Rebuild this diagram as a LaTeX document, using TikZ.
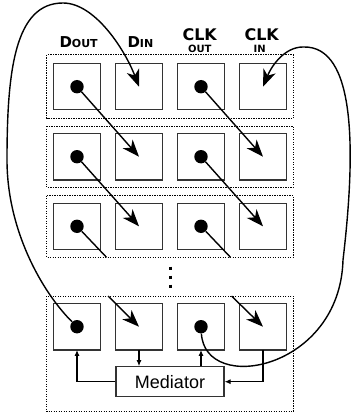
\documentclass[tikz,border=0pt]{standalone}
\usepackage{fontspec}
\setmainfont{DejaVu Sans}
\newfontfamily\medfont{Liberation Sans}
\usetikzlibrary{arrows.meta}
\begin{document}
\begin{tikzpicture}[x=1pt,y=-1pt,
  cell/.style={draw=black!80, line width=1.1pt, fill=white, minimum size=46.5pt, inner sep=0pt, outer sep=0pt},
  grp/.style={draw, line width=1pt, dash pattern=on 1.2pt off 1.3pt},
  dotnode/.style={circle, fill=black, minimum size=13.4pt, inner sep=0pt},
  link/.style={line width=1.4pt, -{Stealth[length=17pt,width=13pt,inset=5pt]}},
  tail/.style={line width=1.4pt},
  med/.style={draw=black!80, line width=1.1pt, fill=white, minimum width=108pt, minimum height=30pt, inner sep=0pt, font=\medfont\fontsize{18}{20}\selectfont},
  small/.style={line width=1.1pt, -{Latex[length=6pt,width=5pt]}},
  hdr/.style={inner sep=0pt, font=\bfseries}
]
\useasboundingbox (0,0) rectangle (357,417);
% groups
\draw[grp] (46.7,55) rectangle (293.3,118.3);
\draw[grp] (46.7,126) rectangle (293.3,187.3);
\draw[grp] (46.7,195.7) rectangle (293.3,257.3);
\draw[grp] (46.7,296) rectangle (293.3,411.7);
% cells
\foreach \r/\y in {1/86.7,2/156.7,3/226.3,4/326.7}
  \foreach \c/\x in {1/77,2/139,3/201,4/263}
    \node[cell] (b\r\c) at (\x,\y) {};
% vertical ellipsis
\draw[line width=3pt, dash pattern=on 3pt off 6pt] (170,266.5) -- (170,292);
% labels
\node[hdr, anchor=base west] (lDout) at (59.3,47.7) {\fontsize{15}{15}\selectfont D\fontsize{11}{11}\selectfont OUT};
\node[hdr, anchor=base west] (lDin) at (127.3,47.7) {\fontsize{15}{15}\selectfont D\fontsize{11}{11}\selectfont IN};
\node[hdr, anchor=base] (lclk3) at (199.7,40.7) {\fontsize{16}{16}\selectfont CLK};
\node[hdr, anchor=base] (lout3) at (199.8,52.7) {\fontsize{10}{10}\selectfont OUT};
\node[hdr, anchor=base] (lclk4) at (261.7,40.7) {\fontsize{16}{16}\selectfont CLK};
\node[hdr, anchor=base] (lin4) at (259.7,52.7) {\fontsize{10}{10}\selectfont IN};
% mediator
\node[med] (med) at (170,381.7) {Mediator};
\draw[small] (med.west) -| (b41.south);
\draw[small] (b42.south) -- (b42.south |- med.north);
\draw[small] (b43.south |- med.north) -- (b43.south);
\draw[small] (b44.south) |- (med.east);
% dots
\foreach \r in {1,...,4} {
  \node[dotnode] (d\r1) at (b\r1.center) {};
  \node[dotnode] (d\r3) at (b\r3.center) {};
}
% diagonal links
\draw[link] (d11) -- (b22.center);
\draw[link] (d13) -- (b24.center);
\draw[link] (d21) -- (b32.center);
\draw[link] (d23) -- (b34.center);
\coordinate (e1) at (106.5,257.3);
\coordinate (e3) at (230.5,257.3);
\draw[tail] (d31) -- (e1);
\draw[tail] (d33) -- (e3);
\coordinate (s2) at (108,296);
\coordinate (s4) at (231.5,296);
\draw[link] (s2) -- (b42.center);
\draw[link] (s4) -- (b44.center);
% wrap-around curves
\draw[link] (d41) .. controls (42,292) and (7,230) .. (7,160)
  .. controls (7,70) and (15,3) .. (63,3)
  .. controls (95,3) and (125,50) .. (b12.center);
\draw[link] (d43) .. controls (205,395) and (340,370) .. (343,260)
  .. controls (356,150) and (356,45) .. (303,47)
  .. controls (285,47) and (272,65) .. (b14.center);
\end{tikzpicture}
\end{document}
